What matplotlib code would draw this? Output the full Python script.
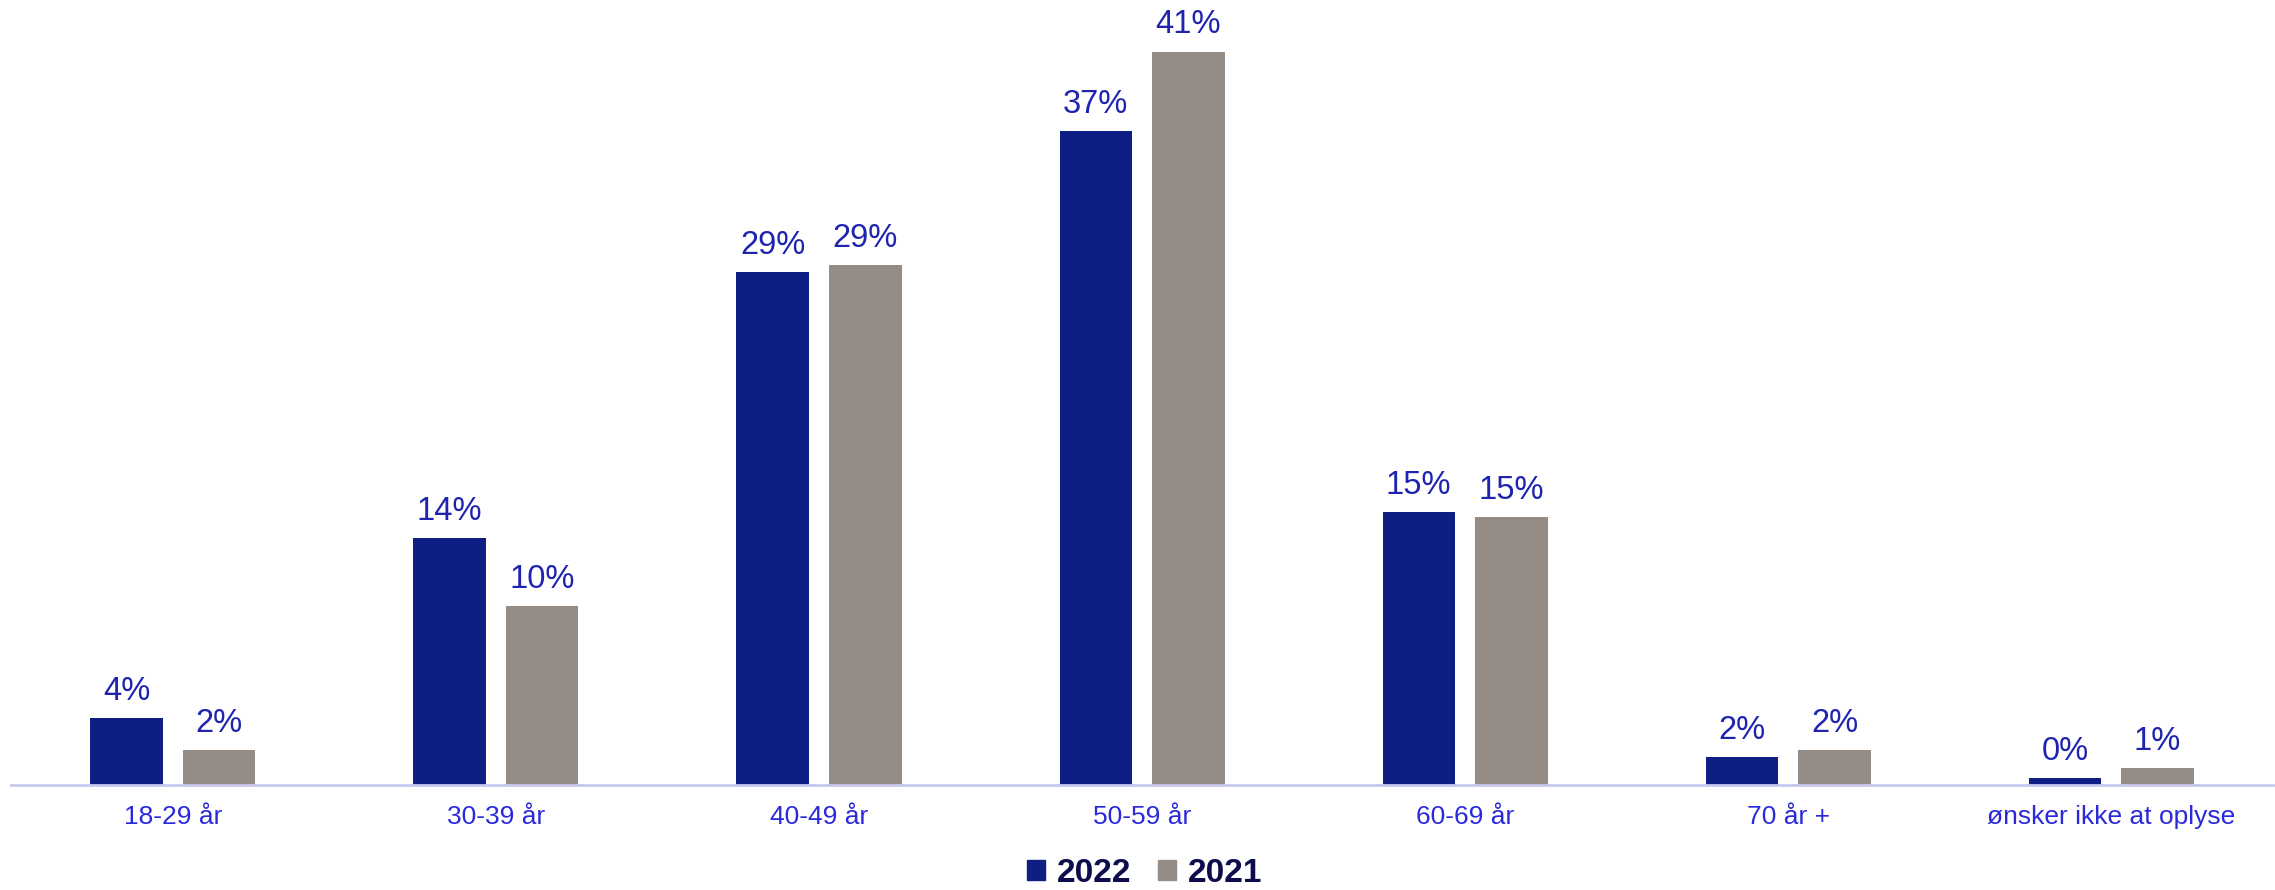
import matplotlib
matplotlib.use("Agg")
import matplotlib.pyplot as plt
import numpy as np
from matplotlib.patches import Patch

# age groups and shares (percent) per survey year
categories = ["18-29 år", "30-39 år", "40-49 år", "50-59 år", "60-69 år", "70 år +", "ønsker ikke at oplyse"]
values_2022 = [3.8, 13.9, 28.9, 36.8, 15.4, 1.6, 0.4]
values_2021 = [2.0, 10.1, 29.3, 41.3, 15.1, 2.0, 1.0]
series_names = ["2022", "2021"]

color_2022 = "#0F1E82"
color_2021 = "#958C85"
label_color = "#1F24B0"
tick_color = "#2A2ADC"

plt.rcParams["font.family"] = ["Liberation Sans", "DejaVu Sans"]

fig = plt.figure(figsize=(22.75, 8.9), dpi=100)
ax = fig.add_axes([0.005, 0.1175, 0.994, 0.8825])

x = np.arange(len(categories))
width = 0.224
offset = 0.1435

bars_a = ax.bar(x - offset, values_2022, width, color=color_2022, label=series_names[0])
bars_b = ax.bar(x + offset, values_2021, width, color=color_2021, label=series_names[1])

# percentage labels above each bar
for bars in (bars_a, bars_b):
    for b in bars:
        h = b.get_height()
        ax.annotate(f"{h:.0f}%", (b.get_x() + b.get_width() / 2, h),
                    xytext=(0, 8), textcoords="offset points",
                    ha="center", va="bottom", fontsize=23.5, color=label_color)

ax.set_xlim(-0.5, len(categories) - 0.5)
ax.set_ylim(0, 44.2)
ax.set_xticks(x)
ax.set_xticklabels(categories, fontsize=19, color=tick_color)
ax.tick_params(axis="x", length=0, pad=14)
ax.set_yticks([])

for s in ["top", "right", "left"]:
    ax.spines[s].set_visible(False)
ax.spines["bottom"].set_color("#C8C8F0")
ax.spines["bottom"].set_linewidth(2)

handles = [Patch(color=color_2022), Patch(color=color_2021)]
fig.legend(handles, series_names, loc="center", bbox_to_anchor=(0.503, 0.019),
           ncol=2, frameon=False, handlelength=0.55, handleheight=0.55,
           handletextpad=0.35, columnspacing=0.8,
           prop={"size": 24, "weight": "heavy"}, labelcolor="#0D0D4D")

fig.savefig("out.png", dpi=100)
